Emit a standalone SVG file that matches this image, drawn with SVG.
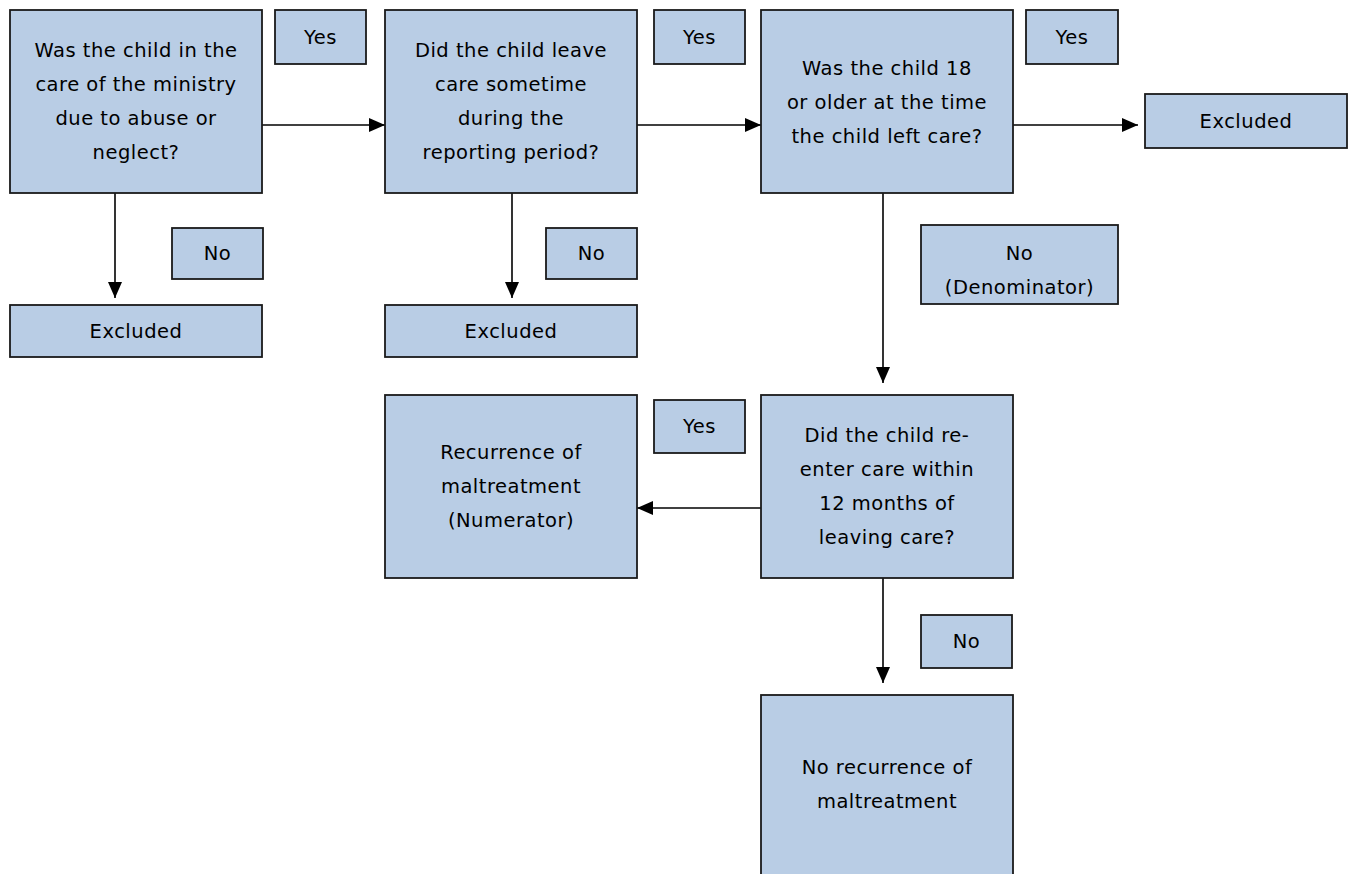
<svg xmlns="http://www.w3.org/2000/svg" width="1349" height="874" viewBox="0 0 1349 874">
<style>
.box{fill:#B9CDE5;stroke:#1a1a1a;stroke-width:1.8}
.t{font-family:"DejaVu Sans","Liberation Sans",sans-serif;font-size:19.5px;letter-spacing:0.5px;fill:#000;text-anchor:middle}
.c{stroke:#000;stroke-width:1.6;fill:none}
</style>
<defs>
<marker id="ah" markerWidth="16" markerHeight="14" refX="16" refY="7" orient="auto" markerUnits="userSpaceOnUse">
<path d="M0,0 L16,7 L0,14 Z" fill="#000"/>
</marker>
</defs>
<rect width="1349" height="874" fill="#fff"/>
<g id="connectors">
<line class="c" x1="262" y1="125" x2="385" y2="125" marker-end="url(#ah)"/>
<line class="c" x1="637" y1="125" x2="761" y2="125" marker-end="url(#ah)"/>
<line class="c" x1="1013" y1="125" x2="1138" y2="125" marker-end="url(#ah)"/>
<line class="c" x1="115" y1="193" x2="115" y2="298" marker-end="url(#ah)"/>
<line class="c" x1="512" y1="193" x2="512" y2="298" marker-end="url(#ah)"/>
<line class="c" x1="883" y1="193" x2="883" y2="383" marker-end="url(#ah)"/>
<line class="c" x1="761" y1="508" x2="637" y2="508" marker-end="url(#ah)"/>
<line class="c" x1="883" y1="578" x2="883" y2="683" marker-end="url(#ah)"/>
</g>
<g id="q1">
<rect class="box" x="10" y="10" width="252" height="183"/>
<text class="t" x="136" y="57">Was the child in the</text>
<text class="t" x="136" y="91">care of the ministry</text>
<text class="t" x="136" y="125">due to abuse or</text>
<text class="t" x="136" y="159">neglect?</text>
</g>
<g id="yes1">
<rect class="box" x="275" y="10" width="91" height="54"/>
<text class="t" x="320.5" y="44">Yes</text>
</g>
<g id="q2">
<rect class="box" x="385" y="10" width="252" height="183"/>
<text class="t" x="511" y="57">Did the child leave</text>
<text class="t" x="511" y="91">care sometime</text>
<text class="t" x="511" y="125">during the</text>
<text class="t" x="511" y="159">reporting period?</text>
</g>
<g id="yes2">
<rect class="box" x="654" y="10" width="91" height="54"/>
<text class="t" x="699.5" y="44">Yes</text>
</g>
<g id="q3">
<rect class="box" x="761" y="10" width="252" height="183"/>
<text class="t" x="887" y="75">Was the child 18</text>
<text class="t" x="887" y="109">or older at the time</text>
<text class="t" x="887" y="143">the child left care?</text>
</g>
<g id="yes3">
<rect class="box" x="1026" y="10" width="92" height="54"/>
<text class="t" x="1072" y="44">Yes</text>
</g>
<g id="excluded3">
<rect class="box" x="1145" y="94" width="202" height="54"/>
<text class="t" x="1246" y="128">Excluded</text>
</g>
<g id="no1">
<rect class="box" x="172" y="228" width="91" height="51"/>
<text class="t" x="217.5" y="260">No</text>
</g>
<g id="excluded1">
<rect class="box" x="10" y="305" width="252" height="52"/>
<text class="t" x="136" y="338">Excluded</text>
</g>
<g id="no2">
<rect class="box" x="546" y="228" width="91" height="51"/>
<text class="t" x="591.5" y="260">No</text>
</g>
<g id="excluded2">
<rect class="box" x="385" y="305" width="252" height="52"/>
<text class="t" x="511" y="338">Excluded</text>
</g>
<g id="no3">
<rect class="box" x="921" y="225" width="197" height="79"/>
<text class="t" x="1019.5" y="260">No</text>
<text class="t" x="1019.5" y="294">(Denominator)</text>
</g>
<g id="q4">
<rect class="box" x="761" y="395" width="252" height="183"/>
<text class="t" x="887" y="442">Did the child re-</text>
<text class="t" x="887" y="476">enter care within</text>
<text class="t" x="887" y="510">12 months of</text>
<text class="t" x="887" y="544">leaving care?</text>
</g>
<g id="yes4">
<rect class="box" x="654" y="400" width="91" height="53"/>
<text class="t" x="699.5" y="433">Yes</text>
</g>
<g id="recurrence">
<rect class="box" x="385" y="395" width="252" height="183"/>
<text class="t" x="511" y="459">Recurrence of</text>
<text class="t" x="511" y="493">maltreatment</text>
<text class="t" x="511" y="527">(Numerator)</text>
</g>
<g id="no4">
<rect class="box" x="921" y="615" width="91" height="53"/>
<text class="t" x="966.5" y="648">No</text>
</g>
<g id="norecurrence">
<rect class="box" x="761" y="695" width="252" height="181"/>
<text class="t" x="887" y="774">No recurrence of</text>
<text class="t" x="887" y="808">maltreatment</text>
</g>
</svg>
